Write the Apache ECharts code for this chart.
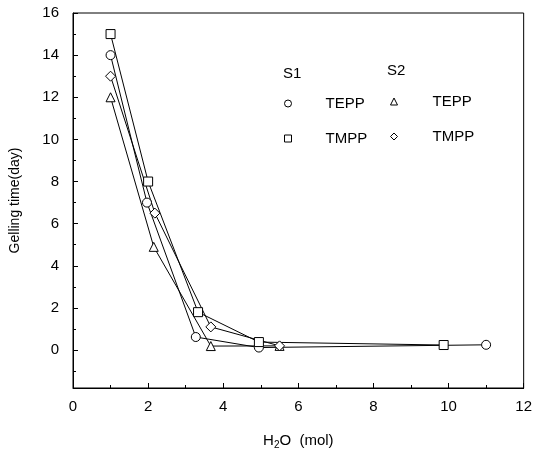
<!DOCTYPE html>
<html>
<head>
    <meta charset="UTF-8">
    <title>Gelling time</title>
    <style>
        html, body { margin: 0; padding: 0; background: #fff; }
        #main { width: 535px; height: 457px; }
    </style>
</head>
<body>
<div id="main"></div>
<script src="https://cdn.jsdelivr.net/npm/echarts@6/dist/echarts.min.js"></script>
<script type="text/javascript">
    // H2O (mol) vs gelling time (day)
    var s1TeppX = [1, 1.97, 3.27, 4.95, 11.0];
    var s1TeppY = [14, 7.0, 0.62, 0.12, 0.25];
    var s1TmppX = [1, 2.0, 3.33, 4.95, 9.87];
    var s1TmppY = [15, 8.0, 1.8, 0.38, 0.24];
    var s2TeppX = [1, 2.15, 3.67, 5.5];
    var s2TeppY = [12, 4.9, 0.19, 0.2];
    var s2TmppX = [1, 2.18, 3.67, 5.5];
    var s2TmppY = [13, 6.5, 1.1, 0.2];

    var yLabels = [0, 2, 4, 6, 8, 10, 12, 14, 16];
    var yMinor = [-1, 1, 3, 5, 7, 9, 11, 13, 15];

    function pairs(xs, ys) {
        var out = [];
        for (var i = 0; i < xs.length; i++) out.push([xs[i], ys[i]]);
        return out;
    }

    var font = 'Liberation Sans, Arial, sans-serif';

    function line(name, symbol, size, data) {
        return {
            name: name,
            type: 'line',
            symbol: symbol,
            symbolSize: size,
            showSymbol: true,
            z: 3,
            lineStyle: { color: '#000', width: 1 },
            itemStyle: { color: '#fff', borderColor: '#000', borderWidth: 1 },
            data: data
        };
    }

    var legendIcon = { color: '#fff', borderColor: '#000', borderWidth: 1 };

    var chart = echarts.init(document.getElementById('main'));
    chart.setOption({
        animation: false,
        title: [
            { text: 'S1', left: 283, top: 66, textStyle: { fontFamily: font, fontSize: 15, fontWeight: 'normal', color: '#000' }, padding: 0 },
            { text: 'S2', left: 387, top: 63, textStyle: { fontFamily: font, fontSize: 15, fontWeight: 'normal', color: '#000' }, padding: 0 }
        ],
        legend: [
            {
                orient: 'vertical', left: 284, top: 96, padding: 0,
                itemWidth: 7, itemHeight: 7, itemGap: 20,
                itemStyle: legendIcon,
                formatter: function (n) { return n.split(' ')[1]; },
                textStyle: { color: '#000', fontFamily: font, fontSize: 15, padding: [0, 0, 0, 29] },
                data: [
                    { name: 'S1 TEPP', icon: 'circle' },
                    { name: 'S1 TMPP', icon: 'rect' }
                ]
            },
            {
                orient: 'vertical', left: 390, top: 94, padding: 0,
                itemWidth: 7, itemHeight: 7, itemGap: 20,
                itemStyle: legendIcon,
                formatter: function (n) { return n.split(' ')[1]; },
                textStyle: { color: '#000', fontFamily: font, fontSize: 15, padding: [0, 0, 0, 30] },
                data: [
                    { name: 'S2 TEPP', icon: 'triangle' },
                    { name: 'S2 TMPP', icon: 'diamond' }
                ]
            }
        ],
        grid: {
            left: 73, right: 11, top: 13, bottom: 69,
            show: true, borderColor: '#000', borderWidth: 1, backgroundColor: 'transparent'
        },
        xAxis: {
            type: 'value', min: 0, max: 12, interval: 2,
            name: '{a|H}{b|2}{a|O  (mol)}',
            nameLocation: 'middle', nameGap: 44,
            nameTextStyle: {
                rich: {
                    a: { fontFamily: font, fontSize: 15, color: '#000' },
                    b: { fontFamily: font, fontSize: 10, color: '#000', verticalAlign: 'bottom', padding: [8, 0, 0, 0] }
                }
            },
            axisLine: { onZero: false, lineStyle: { color: '#000', width: 1 } },
            axisTick: { inside: true, length: 5, lineStyle: { color: '#000' } },
            minorTick: { show: true, splitNumber: 2, length: 3, lineStyle: { color: '#000' } },
            axisLabel: { color: '#000', fontFamily: font, fontSize: 15, margin: 11 },
            splitLine: { show: false }
        },
        yAxis: [
            {
                type: 'value', min: -1.8, max: 16,
                name: 'Gelling time(day)',
                nameLocation: 'middle', nameGap: 51,
                nameTextStyle: { color: '#000', fontFamily: font, fontSize: 14 },
                axisLine: { show: true, lineStyle: { color: '#000', width: 1 } },
                axisTick: { inside: true, length: 5, customValues: yLabels, lineStyle: { color: '#000' } },
                axisLabel: { color: '#000', fontFamily: font, fontSize: 15, margin: 14, customValues: yLabels },
                splitLine: { show: false }
            },
            {
                type: 'value', min: -1.8, max: 16, position: 'left',
                axisLine: { show: false },
                axisTick: { show: true, inside: true, length: 3, customValues: yMinor, lineStyle: { color: '#000' } },
                axisLabel: { show: false, customValues: yMinor },
                splitLine: { show: false }
            }
        ],
        series: [
            line('S1 TEPP', 'circle', 9, pairs(s1TeppX, s1TeppY)),
            line('S1 TMPP', 'rect', 9, pairs(s1TmppX, s1TmppY)),
            line('S2 TEPP', 'triangle', 9, pairs(s2TeppX, s2TeppY)),
            line('S2 TMPP', 'diamond', 10, pairs(s2TmppX, s2TmppY))
        ]
    });
</script>
</body>
</html>
